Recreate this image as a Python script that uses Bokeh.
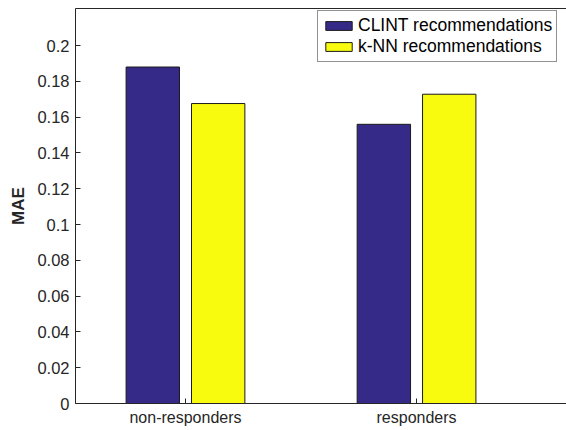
from bokeh.plotting import figure
from bokeh.models import ColumnDataSource, LinearAxis, FixedTicker, Range1d, Legend, LegendItem
from bokeh.transform import dodge
from bokeh.embed import file_html
from bokeh.resources import INLINE

categories = ["non-responders", "responders"]
clint_mae = [0.188, 0.156]
knn_mae = [0.1676, 0.1728]
series_names = ["CLINT recommendations", "k-NN recommendations"]
y_ticks = [0, 0.02, 0.04, 0.06, 0.08, 0.1, 0.12, 0.14, 0.16, 0.18, 0.2]
y_tick_labels = ["0", "0.02", "0.04", "0.06", "0.08", "0.1", "0.12", "0.14", "0.16", "0.18", "0.2"]

pos = [i + 1 for i in range(len(categories))]
src = ColumnDataSource(dict(x=pos, clint=clint_mae, knn=knn_mae))

FONT = "Liberation Sans"
AX = "#262626"

p = figure(width=566, height=430, output_backend="svg", toolbar_location=None,
           x_range=Range1d(0.524, 2.649), y_range=Range1d(0, 0.2207),
           min_border_left=75, min_border_right=0, min_border_top=8, min_border_bottom=27)
p.outline_line_color = None
p.grid.visible = False
p.background_fill_color = "white"
p.border_fill_color = "white"

w = 0.231
off = 0.1415
r1 = p.vbar(x=dodge("x", -off, range=p.x_range), top="clint", width=w, source=src,
            fill_color="#352A87", line_color="#1a1a1a", line_width=1)
r2 = p.vbar(x=dodge("x", off, range=p.x_range), top="knn", width=w, source=src,
            fill_color="#F9FB0E", line_color="#1a1a1a", line_width=1)

# axes
p.xaxis.ticker = FixedTicker(ticks=pos)
p.xaxis.major_label_overrides = {pp: c for pp, c in zip(pos, categories)}
p.yaxis.ticker = FixedTicker(ticks=y_ticks)
p.yaxis.major_label_overrides = {t: l for t, l in zip(y_ticks, y_tick_labels)}
p.yaxis.axis_label = "MAE"
p.yaxis.axis_label_text_font_style = "bold"
p.yaxis.axis_label_text_font_size = "17px"
p.yaxis.axis_label_text_font = FONT
p.yaxis.axis_label_text_color = AX
p.yaxis.axis_label_standoff = 6
for ax in (p.xaxis, p.yaxis):
    ax.major_label_text_font = FONT
    ax.major_label_text_color = AX
    ax.axis_line_color = AX
    ax.major_tick_line_color = AX
    ax.major_tick_in = 5
    ax.major_tick_out = 0
    ax.minor_tick_line_color = None
p.yaxis.major_label_text_font_size = "16.5px"
p.xaxis.major_label_text_font_size = "16px"
p.yaxis.major_label_standoff = 6
p.xaxis.major_label_standoff = 5

top = LinearAxis(ticker=FixedTicker(ticks=[]), major_label_text_font_size="0px",
                 axis_line_color=AX, major_tick_line_color=None, minor_tick_line_color=None,
                 major_label_standoff=0)
p.add_layout(top, "above")

legend = Legend(items=[LegendItem(label=series_names[0], renderers=[r1]),
                       LegendItem(label=series_names[1], renderers=[r2])],
                location=(242, 341))
legend.label_text_font = FONT
legend.label_text_font_size = "17.5px"
legend.label_text_color = "#000000"
legend.glyph_width = 33
legend.glyph_height = 11
legend.label_height = 18
legend.spacing = 0
legend.padding = 4
legend.margin = 0
legend.label_standoff = 3
legend.border_line_color = AX
legend.border_line_width = 1
legend.background_fill_alpha = 1
p.add_layout(legend, "center")

open("out.html", "w").write(file_html(p, INLINE))
